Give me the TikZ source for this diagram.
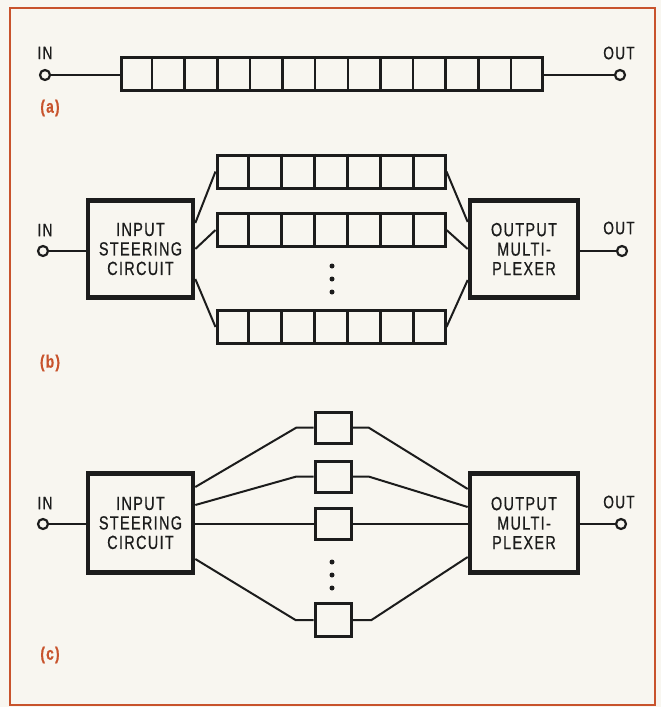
\documentclass[tikz,border=0pt]{standalone}
\usepackage{fontspec}
\setmainfont[FakeStretch=0.76,LetterSpace=7,FakeBold=0.6]{Liberation Sans}
\usetikzlibrary{calc}
\definecolor{frameor}{HTML}{C8532C}
\definecolor{paper}{HTML}{F8F6F0}
\definecolor{ink}{HTML}{1C1C1C}
\newcommand\regcells[2]{%
  \pgfmathtruncatemacro\nmdiv{#2-1}%
  \foreach \i in {1,...,\nmdiv}{%
    \draw[cellline] ($(#1.north west)!\i/#2!(#1.north east)$) -- ($(#1.south west)!\i/#2!(#1.south east)$);}}
\begin{document}
\begin{tikzpicture}[x=1pt,y=-1pt,
  reg/.style={rectangle, draw=ink, line width=3pt, fill=paper, inner sep=0pt},
  cellline/.style={draw=ink, line width=2.6pt},
  cbox/.style={rectangle, draw=ink, line width=3pt, fill=paper, inner sep=0pt, minimum width=36pt, minimum height=31pt},
  bigbox/.style={rectangle, draw=ink, line width=4.6pt, fill=paper, inner sep=0pt, align=center,
     minimum width=105pt, minimum height=97pt, font=\fontsize{19}{19.5}\selectfont, text=ink},
  term/.style={circle, draw=ink, line width=2.2pt, fill=paper, minimum size=10pt, inner sep=0pt},
  wire/.style={draw=ink, line width=2pt},
  lbl/.style={font=\fontsize{18}{18}\selectfont, text=ink},
  tag/.style={font=\bfseries\fontsize{18}{18}\selectfont, text=frameor},
  dotn/.style={circle, fill=ink, minimum size=5pt, inner sep=0pt}]
\fill[paper] (0,0) rectangle (661,707);
\useasboundingbox (0,0) rectangle (661,707);
\draw[frameor, line width=2.6pt] (10,8) rectangle (655,705);

% ---------- (a)
\node[lbl] (inlbla) at (45,53) {IN};
\node[lbl] (outlbla) at (619,53) {OUT};
\node[term] (ina) at (45,75) {};
\node[term] (outa) at (620,75) {};
\node[reg, minimum width=421pt, minimum height=33pt] (rega) at (331.5,74) {};
\regcells{rega}{13}
\draw[wire] (ina) -- (ina -| rega.west);
\draw[wire] (outa -| rega.east) -- (outa);
\node[tag] (taga) at (50,108) {(a)};

% ---------- (b)
\node[lbl] (inlblb) at (45,230) {IN};
\node[lbl] (outlblb) at (619,228) {OUT};
\node[term] (inb) at (43,251) {};
\node[term] (outb) at (622,251) {};
\node[bigbox] (steerb) at (140.5,249) {INPUT\\STEERING\\CIRCUIT};
\node[bigbox, minimum width=108pt] (muxb) at (524,249) {OUTPUT\\MULTI-\\PLEXER};
\node[reg, minimum width=228pt, minimum height=33pt] (rb1) at (331,171.5) {};
\node[reg, minimum width=228pt, minimum height=33pt] (rb2) at (331,230) {};
\node[reg, minimum width=228pt, minimum height=33pt] (rb3) at (331,327) {};
\regcells{rb1}{7}
\regcells{rb2}{7}
\regcells{rb3}{7}
\node[dotn] (db1) at (332,266) {};
\node[dotn] (db2) at (332,279) {};
\node[dotn] (db3) at (332,292) {};
\draw[wire] (inb) -- (inb -| steerb.west);
\draw[wire] (outb -| muxb.east) -- (outb);
\draw[wire] ([yshift=26pt]steerb.east) -- (rb1.west);
\draw[wire] (steerb.east) -- (rb2.west);
\draw[wire] ([yshift=-30pt]steerb.east) -- (rb3.west);
\draw[wire] (rb1.east) -- ([yshift=27pt]muxb.west);
\draw[wire] (rb2.east) -- (muxb.west);
\draw[wire] (rb3.east) -- ([yshift=-31pt]muxb.west);
\node[tag] (tagb) at (50,363) {(b)};

% ---------- (c)
\node[lbl] (inlblc) at (45,503) {IN};
\node[lbl] (outlblc) at (619,502) {OUT};
\node[term] (inc) at (43,524) {};
\node[term] (outc) at (621,524) {};
\node[bigbox, minimum height=99pt] (steerc) at (140.5,523) {INPUT\\STEERING\\CIRCUIT};
\node[bigbox, minimum width=108pt, minimum height=99pt] (muxc) at (524,523) {OUTPUT\\MULTI-\\PLEXER};
\node[cbox] (c1) at (333,427.5) {};
\node[cbox] (c2) at (333,476.5) {};
\node[cbox] (c3) at (333,524) {};
\node[cbox, minimum height=33pt] (c4) at (333,620) {};
\node[dotn] (dc1) at (332,562) {};
\node[dotn] (dc2) at (332,575) {};
\node[dotn] (dc3) at (332,588) {};
\draw[wire] (inc) -- (inc -| steerc.west);
\draw[wire] (outc -| muxc.east) -- (outc);
\draw[wire] ([yshift=36pt]steerc.east) -- ([xshift=-17pt]c1.west) -- (c1.west);
\draw[wire] ([yshift=18pt]steerc.east) -- ([xshift=-17pt]c2.west) -- (c2.west);
\draw[wire] (c3.west -| steerc.east) -- (c3.west);
\draw[wire] ([yshift=-36pt]steerc.east) -- ([xshift=-18pt]c4.west) -- (c4.west);
\draw[wire] (c1.east) -- ([xshift=16pt]c1.east) -- ([yshift=34pt]muxc.west);
\draw[wire] (c2.east) -- ([xshift=16pt]c2.east) -- ([yshift=16pt]muxc.west);
\draw[wire] (c3.east) -- (c3.east -| muxc.west);
\draw[wire] (c4.east) -- ([xshift=19pt]c4.east) -- ([yshift=-34pt]muxc.west);
\node[tag] (tagc) at (50,655) {(c)};
\end{tikzpicture}
\end{document}
